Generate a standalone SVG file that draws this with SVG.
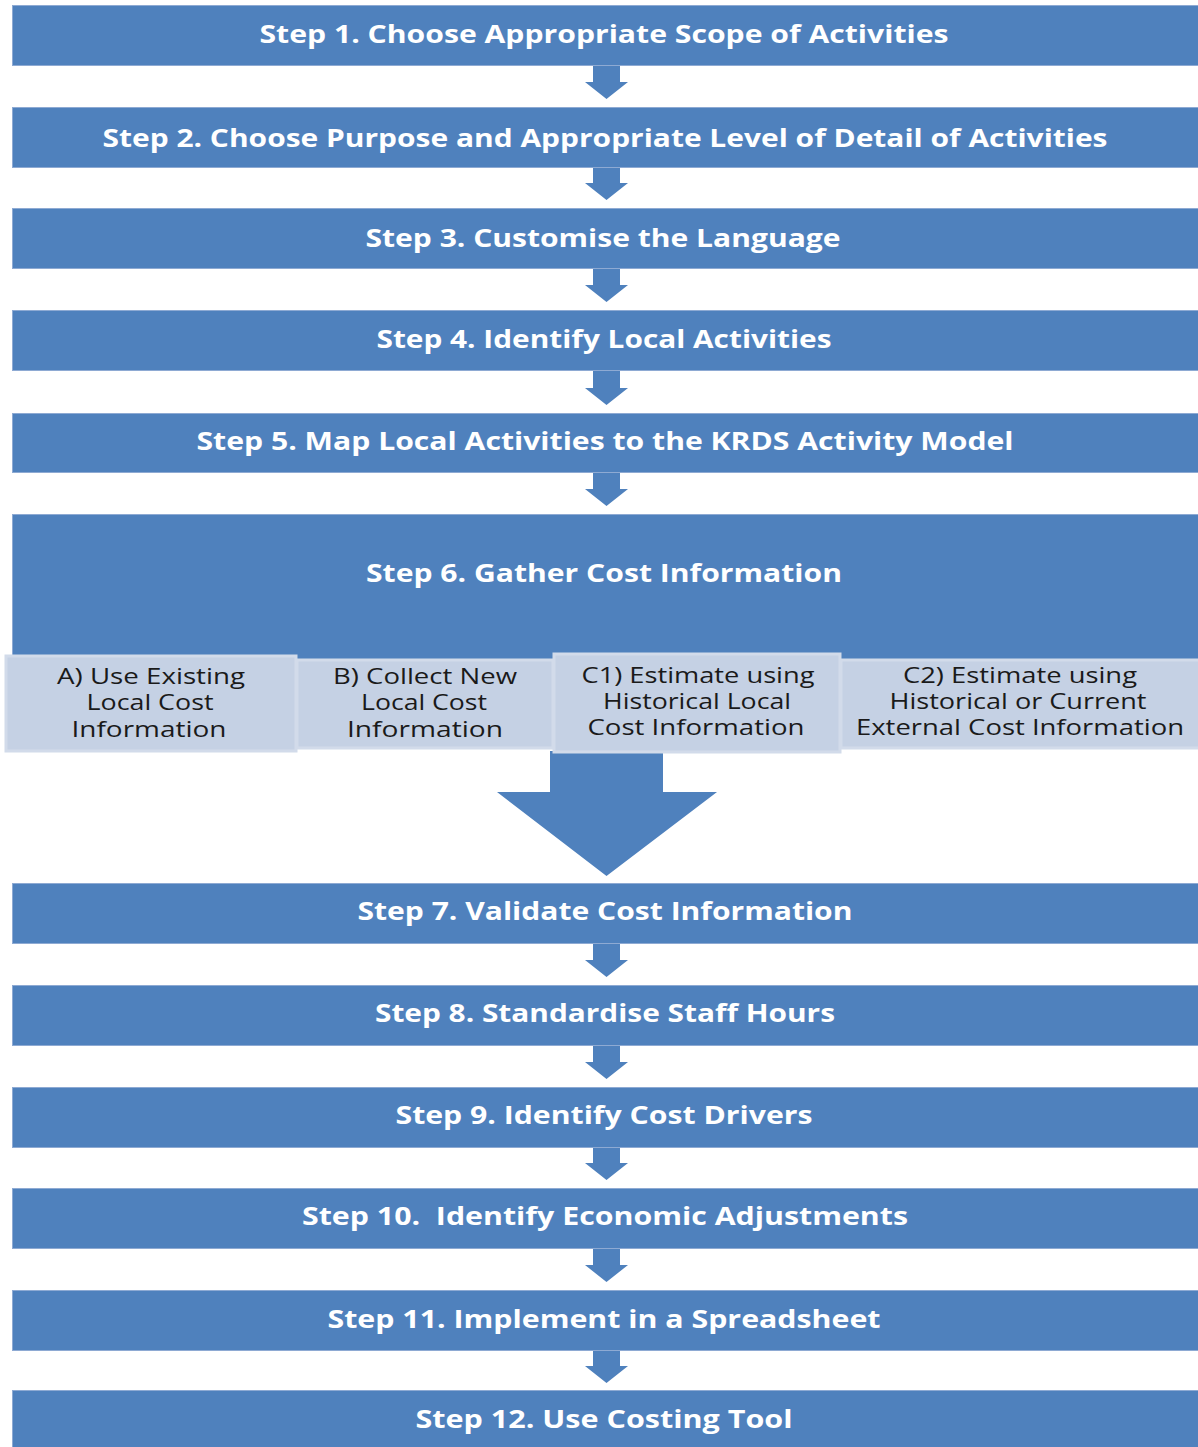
<svg xmlns="http://www.w3.org/2000/svg" width="1198" height="1447" viewBox="0 0 1198 1447">
<style>
.bar{fill:#4f81bd;stroke:#8eaad3;stroke-width:1}
.arr{fill:#4f81bd}
.t{font-family:"Open Sans","DejaVu Sans",sans-serif;font-weight:bold;font-size:25px;fill:#ffffff;text-anchor:middle}
.box{fill:#c5d1e4;stroke:#d2dbea;stroke-width:3}
.s{font-family:"Open Sans","DejaVu Sans",sans-serif;font-size:21px;fill:#1a1a1a;text-anchor:middle}
</style>
<rect x="0" y="0" width="1198" height="1447" fill="#ffffff"/>
<g id="connectors">
<path class="arr" d="M593 64 H620 V82 H628 L606.5 99 L585 82 H593 Z"/>
<path class="arr" d="M593 166 H620 V183 H628 L606.5 200 L585 183 H593 Z"/>
<path class="arr" d="M593 267 H620 V285 H628 L606.5 302 L585 285 H593 Z"/>
<path class="arr" d="M593 369 H620 V388 H628 L606.5 405 L585 388 H593 Z"/>
<path class="arr" d="M593 471 H620 V489 H628 L606.5 506 L585 489 H593 Z"/>
<path class="arr" d="M550 751 H663 V792 H717 L606.5 876 L497 792 H550 Z"/>
<path class="arr" d="M593 942 H620 V960 H628 L606.5 977 L585 960 H593 Z"/>
<path class="arr" d="M593 1044 H620 V1062 H628 L606.5 1079 L585 1062 H593 Z"/>
<path class="arr" d="M593 1146 H620 V1163 H628 L606.5 1180 L585 1163 H593 Z"/>
<path class="arr" d="M593 1247 H620 V1265 H628 L606.5 1282 L585 1265 H593 Z"/>
<path class="arr" d="M593 1349 H620 V1366 H628 L606.5 1383 L585 1366 H593 Z"/>
</g>
<g id="step1"><rect class="bar" x="12.5" y="5.5" width="1190" height="60"/><text class="t" x="604" y="43" textLength="689" lengthAdjust="spacingAndGlyphs">Step 1. Choose Appropriate Scope of Activities</text></g>
<g id="step2"><rect class="bar" x="12.5" y="107.5" width="1190" height="60"/><text class="t" x="605" y="147" textLength="1005" lengthAdjust="spacingAndGlyphs">Step 2. Choose Purpose and Appropriate Level of Detail of Activities</text></g>
<g id="step3"><rect class="bar" x="12.5" y="208.5" width="1190" height="60"/><text class="t" x="603" y="247" textLength="475" lengthAdjust="spacingAndGlyphs">Step 3. Customise the Language</text></g>
<g id="step4"><rect class="bar" x="12.5" y="310.5" width="1190" height="60"/><text class="t" x="604" y="348" textLength="455" lengthAdjust="spacingAndGlyphs">Step 4. Identify Local Activities</text></g>
<g id="step5"><rect class="bar" x="12.5" y="413.5" width="1190" height="59"/><text class="t" x="605" y="450" textLength="817" lengthAdjust="spacingAndGlyphs">Step 5. Map Local Activities to the KRDS Activity Model</text></g>
<g id="step6"><rect class="bar" x="12.5" y="514.5" width="1190" height="146"/><text class="t" x="604" y="582" textLength="476" lengthAdjust="spacingAndGlyphs">Step 6. Gather Cost Information</text></g>
<g id="boxA"><rect class="box" x="6" y="656" width="290" height="95"/><text class="s" x="151" y="684" textLength="188" lengthAdjust="spacingAndGlyphs">A) Use Existing</text><text class="s" x="150" y="710" textLength="127" lengthAdjust="spacingAndGlyphs">Local Cost</text><text class="s" x="149" y="737" textLength="155" lengthAdjust="spacingAndGlyphs">Information</text></g>
<g id="boxB"><rect class="box" x="297" y="660" width="256" height="88"/><text class="s" x="425" y="684" textLength="184" lengthAdjust="spacingAndGlyphs">B) Collect New</text><text class="s" x="424" y="710" textLength="126" lengthAdjust="spacingAndGlyphs">Local Cost</text><text class="s" x="425" y="737" textLength="156" lengthAdjust="spacingAndGlyphs">Information</text></g>
<g id="boxC1"><rect class="box" x="554" y="654" width="286" height="98"/><text class="s" x="698" y="683" textLength="233" lengthAdjust="spacingAndGlyphs">C1) Estimate using</text><text class="s" x="697" y="709" textLength="188" lengthAdjust="spacingAndGlyphs">Historical Local</text><text class="s" x="696" y="735" textLength="217" lengthAdjust="spacingAndGlyphs">Cost Information</text></g>
<g id="boxC2"><rect class="box" x="841" y="660" width="360" height="88"/><text class="s" x="1020" y="683" textLength="234" lengthAdjust="spacingAndGlyphs">C2) Estimate using</text><text class="s" x="1018" y="709" textLength="257" lengthAdjust="spacingAndGlyphs">Historical or Current</text><text class="s" x="1020" y="735" textLength="328" lengthAdjust="spacingAndGlyphs">External Cost Information</text></g>
<g id="step7"><rect class="bar" x="12.5" y="883.5" width="1190" height="60"/><text class="t" x="605" y="920" textLength="495" lengthAdjust="spacingAndGlyphs">Step 7. Validate Cost Information</text></g>
<g id="step8"><rect class="bar" x="12.5" y="985.5" width="1190" height="60"/><text class="t" x="605" y="1022" textLength="460" lengthAdjust="spacingAndGlyphs">Step 8. Standardise Staff Hours</text></g>
<g id="step9"><rect class="bar" x="12.5" y="1087.5" width="1190" height="60"/><text class="t" x="604" y="1124" textLength="417" lengthAdjust="spacingAndGlyphs">Step 9. Identify Cost Drivers</text></g>
<g id="step10"><rect class="bar" x="12.5" y="1188.5" width="1190" height="60"/><text class="t" x="605" y="1225" textLength="606" lengthAdjust="spacingAndGlyphs" xml:space="preserve">Step 10.  Identify Economic Adjustments</text></g>
<g id="step11"><rect class="bar" x="12.5" y="1290.5" width="1190" height="60"/><text class="t" x="604" y="1328" textLength="553" lengthAdjust="spacingAndGlyphs">Step 11. Implement in a Spreadsheet</text></g>
<g id="step12"><rect class="bar" x="12.5" y="1390.5" width="1190" height="60"/><text class="t" x="604" y="1428" textLength="377" lengthAdjust="spacingAndGlyphs">Step 12. Use Costing Tool</text></g>
</svg>
